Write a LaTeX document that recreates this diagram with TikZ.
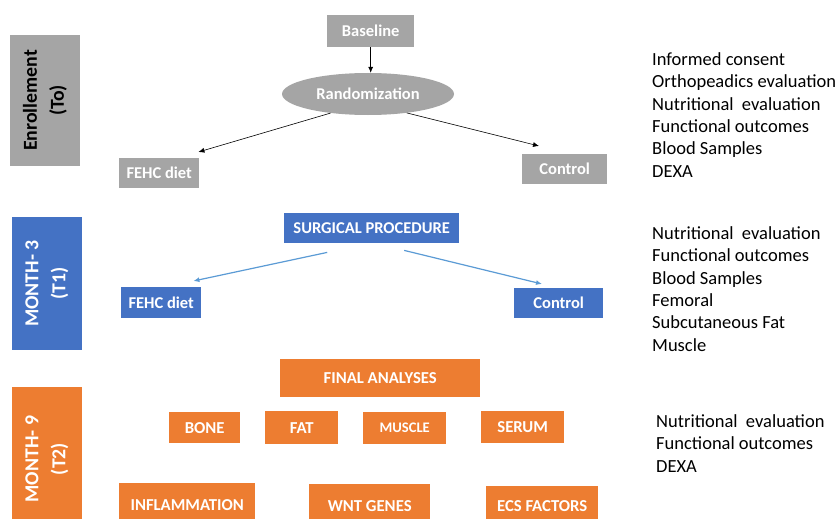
\documentclass[tikz,border=0pt]{standalone}
\usepackage{fontspec}
\setmainfont{Carlito}
\usetikzlibrary{shapes.geometric,arrows.meta}
\definecolor{cgray}{HTML}{A5A5A5}
\definecolor{cblue}{HTML}{4472C4}
\definecolor{corange}{HTML}{ED7D31}
\definecolor{carrow}{HTML}{5B9BD5}
\begin{document}
\begin{tikzpicture}[x=1pt,y=-1pt,
  box/.style={draw=none,inner sep=0pt,text=white,anchor=north west,
    font=\fontsize{16.5}{19}\selectfont\bfseries},
  gbox/.style={box,fill=cgray},
  bbox/.style={box,fill=cblue},
  obox/.style={box,fill=corange,font=\fontsize{16.7}{19}\selectfont\bfseries},
  side/.style={rotate=90,inner sep=0pt,align=center,
    font=\fontsize{19.8}{27}\selectfont\bfseries},
  list/.style={anchor=base west,inner sep=0pt,align=left,
    font=\fontsize{18.5}{22.3}\selectfont},
  blk/.style={-{Latex[length=6pt,width=5pt]},line width=0.6pt,black},
  blu/.style={-{Latex[length=6pt,width=5pt]},line width=1.2pt,carrow},
]
\useasboundingbox[fill=white] (0,0) rectangle (838,519);
\clip (0,0) rectangle (838,519);

% ---- Enrollment ----
\node[side,fill=cgray,text=black,minimum width=131,minimum height=70] (enr) at (45,100.5) {Enrollement\\(To)};
\node[gbox,minimum width=87,minimum height=32] (base) at (327,15) {Baseline};
\node[ellipse,fill=cgray,text=white,inner sep=0pt,minimum width=172,minimum height=42,
  font=\fontsize{16.5}{19}\selectfont\bfseries] (rand) at (368,94) {Randomization};
\node[gbox,minimum width=80,minimum height=30] (fehc1) at (119,158) {FEHC diet};
\node[gbox,minimum width=85,minimum height=30] (ctrl1) at (522,154) {Control};
\draw[blk] (base.south) -- (base.south |- rand.north);
\draw[blk] (rand.207) -- ([xshift=-1pt,yshift=6pt]fehc1.north east);
\draw[blk] (rand.334) -- ([xshift=17pt,yshift=8pt]ctrl1.north west);
\node[list] (l1) at (652,177) {Informed consent\\Orthopeadics evaluation\\Nutritional\ \ evaluation\\Functional outcomes\\Blood Samples\\DEXA};

% ---- Month 3 ----
\node[side,fill=cblue,text=white,minimum width=133,minimum height=70] (m3) at (47,283.5) {MONTH- 3\\(T1)};
\node[bbox,minimum width=175,minimum height=30] (surg) at (284,213) {SURGICAL PROCEDURE};
\node[bbox,minimum width=80,minimum height=31] (fehc2) at (121,287) {FEHC diet};
\node[bbox,minimum width=89,minimum height=30] (ctrl2) at (514,288) {Control};
\draw[blu] ([xshift=-44.5pt,yshift=-9pt]surg.south) -- ([xshift=-8pt,yshift=6pt]fehc2.north east);
\draw[blu] ([xshift=32.5pt,yshift=-7pt]surg.south) -- ([xshift=28pt,yshift=4pt]ctrl2.north west);
\node[list] (l2) at (652,351) {Nutritional\ \ evaluation\\Functional outcomes\\Blood Samples\\Femoral\\Subcutaneous Fat\\Muscle};

% ---- Month 9 ----
\node[side,fill=corange,text=white,minimum width=144,minimum height=70] (m9) at (47,459) {MONTH- 9\\(T2)};
\node[obox,minimum width=200,minimum height=38] (final) at (280,359) {FINAL ANALYSES};
\node[obox,minimum width=71,minimum height=31] (bone) at (169,412) {BONE};
\node[obox,minimum width=73,minimum height=33] (fat) at (265,411) {FAT};
\node[obox,minimum width=83,minimum height=32,font=\fontsize{14.6}{17}\selectfont\bfseries] (muscle) at (363,412) {MUSCLE};
\node[obox,minimum width=83,minimum height=32] (serum) at (481,411) {SERUM};
\node[obox,minimum width=136,minimum height=44] (infl) at (119,483) {INFLAMMATION};
\node[obox,minimum width=121,minimum height=44] (wnt) at (309,484) {WNT GENES};
\node[obox,minimum width=112,minimum height=40] (ecs) at (486,486) {ECS FACTORS};
\node[list] (l3) at (656,472) {Nutritional\ \ evaluation\\Functional outcomes\\DEXA};
\end{tikzpicture}
\end{document}
